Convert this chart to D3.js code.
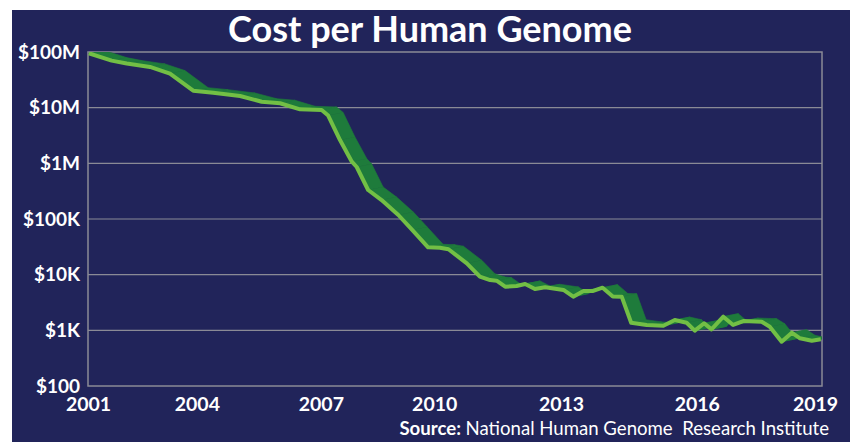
<!DOCTYPE html>
<html><head><meta charset="utf-8">
<script src="https://cdn.jsdelivr.net/npm/d3@7"></script>
<style>body{margin:0;background:#fff} svg{display:block}</style>
</head><body><svg id="c" width="853" height="442"></svg>
<script>
const years = [2001.02,2001.58,2001.95,2002.52,2003.01,2003.58,2004.07,2004.73,2005.26,2005.71,
  2006.20,2006.73,2006.89,2007.18,2007.47,2007.59,2007.87,2008.20,2008.61,2008.95,
  2009.34,2009.63,2009.84,2010.29,2010.61,2010.86,2011.02,2011.23,2011.51,2011.72,
  2011.96,2012.21,2012.66,2012.90,2013.15,2013.39,2013.62,2013.87,2014.09,2014.32,
  2014.70,2015.11,2015.39,2015.68,2015.88,2016.11,2016.29,2016.58,2016.82,2017.07,
  2017.52,2017.72,2018.01,2018.26,2018.46,2018.75,2018.97];
const costs = [95000000,70000000,62000000,54000000,41000000,20200000,18600000,16200000,12800000,12000000,
  9350000,9080000,7230000,2620000,1070000,859000,332000,219000,118000,63500,
  31000,30500,28600,16000,9200,8000,7800,6080,6260,6800,
  5530,5930,5310,4020,5090,5100,5840,4060,4000,1370,
  1250,1210,1530,1370,986,1340,1040,1760,1250,1470,
  1430,1160,625,908,719,652,690];
// label positions along the year axis, as placed in the picture
const xTickValues = [2001.0, 2003.67, 2006.71, 2009.49, 2012.6, 2015.93, 2018.83];
const xTickLabels = ["2001","2004","2007","2010","2013","2016","2019"];
const yTicks = [1e2,1e3,1e4,1e5,1e6,1e7,1e8];
const yTickLabels = ["$100","$1K","$10K","$100K","$1M","$10M","$100M"];
const titleText = "Cost per Human Genome";
const sourceBold = "Source:";
const sourceText = "National Human Genome\u00a0 Research Institute";

const svg = d3.select("#c");
const W = 853, H = 442;
const M = {left: 88, right: 822, top: 52, bottom: 386};
const navy = "#21245a", light = "#72bf45", dark = "#1e7b3b", grid = "#8a8a96";

svg.append("rect").attr("x", 12).attr("y", 10).attr("width", 838).attr("height", H - 10).attr("fill", navy);

const x = d3.scaleLinear().domain([2001, 2019]).range([M.left, M.right]);
const y = d3.scaleLog().domain([1e2, 1e8]).range([M.bottom, M.top]);

svg.append("text").attr("x", 430).attr("y", 42).attr("text-anchor", "middle")
  .attr("fill", "#fff").attr("font-family", "Lato").attr("font-weight", 700)
  .attr("font-size", 36).text(titleText);

// gridlines
const gridG = svg.append("g");
gridG.selectAll("line").data(yTicks.slice(1, -1)).join("line")
  .attr("x1", M.left).attr("x2", M.right)
  .attr("y1", d => y(d)).attr("y2", d => y(d))
  .attr("stroke", grid).attr("stroke-width", 1.2);

svg.append("rect").attr("x", M.left).attr("y", M.top)
  .attr("width", M.right - M.left).attr("height", M.bottom - M.top)
  .attr("fill", "none").attr("stroke", grid).attr("stroke-width", 1.5);

// axes
const yAxis = d3.axisLeft(y).tickValues(yTicks).tickFormat((d, i) => yTickLabels[i]).tickSize(0).tickPadding(8);
const yg = svg.append("g").attr("transform", `translate(${M.left},0)`).call(yAxis);
yg.select(".domain").remove();
yg.selectAll("text").attr("fill", "#fff").attr("font-family", "Lato").attr("font-weight", 700).attr("font-size", 19);

const xAxis = d3.axisBottom(x).tickValues(xTickValues).tickFormat((d, i) => xTickLabels[i]).tickSize(0).tickPadding(11);
const xg = svg.append("g").attr("transform", `translate(0,${M.bottom})`).call(xAxis);
xg.select(".domain").remove();
xg.selectAll("text").attr("fill", "#fff").attr("font-family", "Lato").attr("font-weight", 700).attr("font-size", 19.5);

// data
const pts = years.map((yr, i) => [x(yr), y(costs[i])]);
const DX = 15, DY = -3;
svg.append("clipPath").attr("id", "clip").append("rect")
  .attr("x", M.left).attr("y", M.top).attr("width", M.right - M.left).attr("height", M.bottom - M.top);
const band = svg.append("g").attr("clip-path", "url(#clip)");
const segs = d3.pairs(pts);
band.selectAll("path").data(segs).join("path")
  .attr("d", ([a, b]) => `M${a[0]},${a[1]}L${b[0]},${b[1]}L${b[0] + DX},${b[1] + DY}L${a[0] + DX},${a[1] + DY}Z`)
  .attr("fill", dark).attr("stroke", dark).attr("stroke-width", 0.6).attr("stroke-linejoin", "round");

const line = d3.line();
svg.append("path").attr("clip-path", "url(#clip)").attr("d", line(pts)).attr("fill", "none")
  .attr("stroke", light).attr("stroke-width", 4).attr("stroke-linejoin", "round");

const src = svg.append("text").attr("x", 829).attr("y", 435).attr("text-anchor", "end")
  .attr("fill", "#fff").attr("font-family", "Lato").attr("font-size", 18.6);
src.append("tspan").attr("font-weight", 700).text(sourceBold + " ");
src.append("tspan").text(sourceText);
</script></body></html>
